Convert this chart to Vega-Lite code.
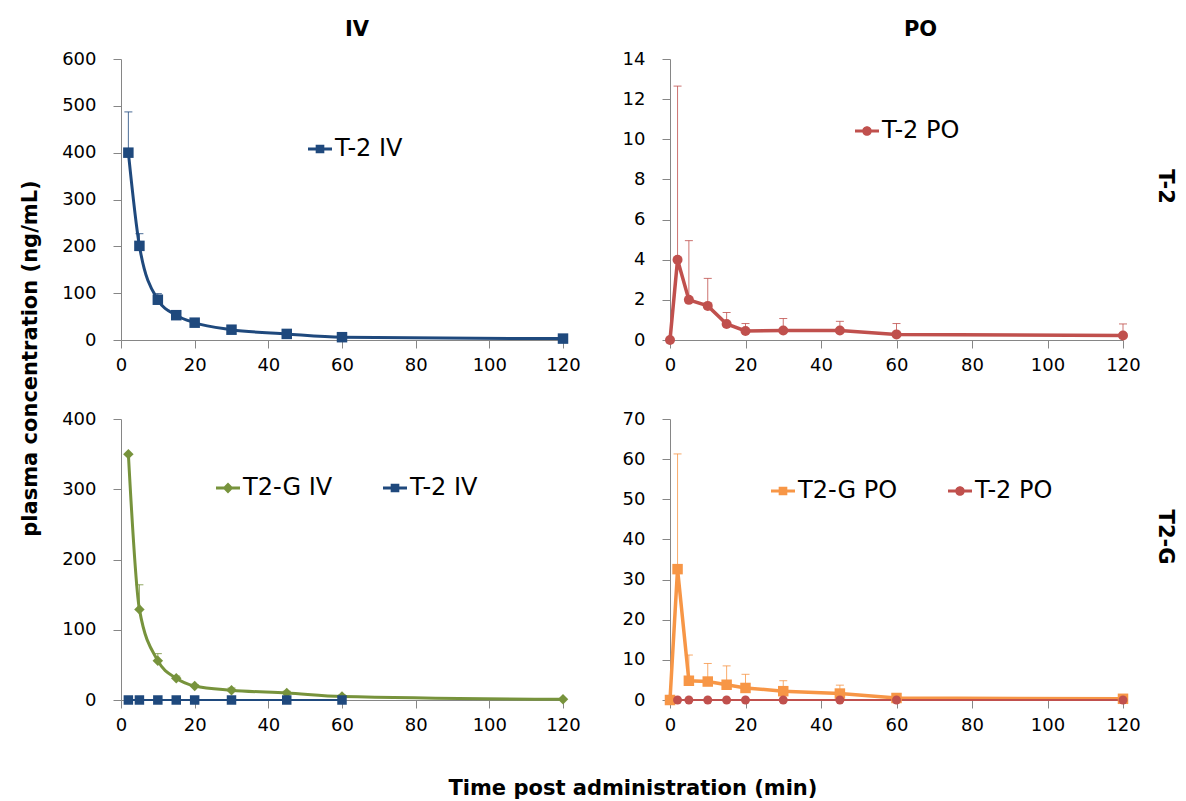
{
  "$schema": "https://vega.github.io/schema/vega-lite/v6.json",
  "background": "white",
  "padding": {"left": 19, "top": 19, "right": 4, "bottom": 4},
  "data": {"values": [
    {"p": "TL", "s": "T-2 IV", "t": 2, "c": 400, "u": 487},
    {"p": "TL", "s": "T-2 IV", "t": 5, "c": 201, "u": 227},
    {"p": "TL", "s": "T-2 IV", "t": 10, "c": 86, "u": 99},
    {"p": "TL", "s": "T-2 IV", "t": 15, "c": 53, "u": null},
    {"p": "TL", "s": "T-2 IV", "t": 20, "c": 37, "u": null},
    {"p": "TL", "s": "T-2 IV", "t": 30, "c": 22, "u": null},
    {"p": "TL", "s": "T-2 IV", "t": 45, "c": 13, "u": null},
    {"p": "TL", "s": "T-2 IV", "t": 60, "c": 6, "u": null},
    {"p": "TL", "s": "T-2 IV", "t": 120, "c": 3, "u": null},
    {"p": "TR", "s": "T-2 PO", "t": 0, "c": 0, "u": null},
    {"p": "TR", "s": "T-2 PO", "t": 2, "c": 4.0, "u": 12.65},
    {"p": "TR", "s": "T-2 PO", "t": 5, "c": 2.0, "u": 4.95},
    {"p": "TR", "s": "T-2 PO", "t": 10, "c": 1.7, "u": 3.07},
    {"p": "TR", "s": "T-2 PO", "t": 15, "c": 0.8, "u": 1.37},
    {"p": "TR", "s": "T-2 PO", "t": 20, "c": 0.45, "u": 0.82},
    {"p": "TR", "s": "T-2 PO", "t": 30, "c": 0.47, "u": 1.07},
    {"p": "TR", "s": "T-2 PO", "t": 45, "c": 0.47, "u": 0.93},
    {"p": "TR", "s": "T-2 PO", "t": 60, "c": 0.28, "u": 0.82},
    {"p": "TR", "s": "T-2 PO", "t": 120, "c": 0.22, "u": 0.8},
    {"p": "BL", "s": "T2-G IV", "t": 2, "c": 350, "u": null},
    {"p": "BL", "s": "T2-G IV", "t": 5, "c": 129, "u": 164},
    {"p": "BL", "s": "T2-G IV", "t": 10, "c": 56, "u": 66},
    {"p": "BL", "s": "T2-G IV", "t": 15, "c": 31, "u": 34},
    {"p": "BL", "s": "T2-G IV", "t": 20, "c": 20, "u": 22},
    {"p": "BL", "s": "T2-G IV", "t": 30, "c": 14, "u": 17},
    {"p": "BL", "s": "T2-G IV", "t": 45, "c": 10, "u": 12.5},
    {"p": "BL", "s": "T2-G IV", "t": 60, "c": 5, "u": 7},
    {"p": "BL", "s": "T2-G IV", "t": 120, "c": 1, "u": null},
    {"p": "BL", "s": "T-2 IV", "t": 2, "c": 0, "u": null},
    {"p": "BL", "s": "T-2 IV", "t": 5, "c": 0, "u": null},
    {"p": "BL", "s": "T-2 IV", "t": 10, "c": 0, "u": null},
    {"p": "BL", "s": "T-2 IV", "t": 15, "c": 0, "u": null},
    {"p": "BL", "s": "T-2 IV", "t": 20, "c": 0, "u": null},
    {"p": "BL", "s": "T-2 IV", "t": 30, "c": 0, "u": null},
    {"p": "BL", "s": "T-2 IV", "t": 45, "c": 0, "u": null},
    {"p": "BL", "s": "T-2 IV", "t": 60, "c": 0, "u": null},
    {"p": "BR", "s": "T2-G PO", "t": 0, "c": 0, "u": null},
    {"p": "BR", "s": "T2-G PO", "t": 2, "c": 32.6, "u": 61.3},
    {"p": "BR", "s": "T2-G PO", "t": 5, "c": 4.8, "u": 11.2},
    {"p": "BR", "s": "T2-G PO", "t": 10, "c": 4.6, "u": 9.1},
    {"p": "BR", "s": "T2-G PO", "t": 15, "c": 3.8, "u": 8.5},
    {"p": "BR", "s": "T2-G PO", "t": 20, "c": 3.0, "u": 6.4},
    {"p": "BR", "s": "T2-G PO", "t": 30, "c": 2.2, "u": 4.8},
    {"p": "BR", "s": "T2-G PO", "t": 45, "c": 1.6, "u": 3.7},
    {"p": "BR", "s": "T2-G PO", "t": 60, "c": 0.5, "u": 1.2},
    {"p": "BR", "s": "T2-G PO", "t": 120, "c": 0.3, "u": null},
    {"p": "BR", "s": "T-2 PO", "t": 2, "c": 0, "u": null},
    {"p": "BR", "s": "T-2 PO", "t": 5, "c": 0, "u": null},
    {"p": "BR", "s": "T-2 PO", "t": 10, "c": 0, "u": null},
    {"p": "BR", "s": "T-2 PO", "t": 15, "c": 0, "u": null},
    {"p": "BR", "s": "T-2 PO", "t": 20, "c": 0, "u": null},
    {"p": "BR", "s": "T-2 PO", "t": 30, "c": 0, "u": null},
    {"p": "BR", "s": "T-2 PO", "t": 45, "c": 0, "u": null},
    {"p": "BR", "s": "T-2 PO", "t": 60, "c": 0, "u": null},
    {"p": "BR", "s": "T-2 PO", "t": 120, "c": 0, "u": null}
  ]},
  "title": {"text": "Time post administration (min)", "orient": "bottom", "anchor": "middle", "offset": 44, "dx": 35},
  "resolve": {"scale": {"color": "independent", "shape": "independent"}, "legend": {"color": "independent", "shape": "independent"}},
  "vconcat": [
    {
      "title": {"text": "plasma concentration (ng/mL)", "orient": "left", "anchor": "middle", "offset": 21, "dx": 18},
      "spacing": 36,
      "resolve": {"scale": {"color": "independent", "shape": "independent"}, "legend": {"color": "independent", "shape": "independent"}},
      "vconcat": [
        {
          "spacing": 41,
          "resolve": {"scale": {"color": "independent", "shape": "independent"}, "legend": {"color": "independent", "shape": "independent"}},
          "hconcat": [
            {
              "width": 442, "height": 281,
              "title": {"text": "IV", "dx": 15},
              "transform": [{"filter": "datum.p === 'TL'"}],
              "layer": [
                {"transform": [{"filter": "isValid(datum.u)"}],
                 "mark": {"type": "rule", "strokeWidth": 1, "opacity": 0.8},
                 "encoding": {
                   "x": {"field": "t", "type": "quantitative", "title": null, "scale": {"domain": [0, 120], "nice": false}, "axis": {"values": [0, 20, 40, 60, 80, 100, 120]}},
                   "y": {"field": "c", "type": "quantitative", "title": null, "scale": {"domain": [0, 600], "nice": false}, "axis": {"values": [0, 100, 200, 300, 400, 500, 600]}},
                   "y2": {"field": "u"},
                   "color": {"field": "s", "type": "nominal", "scale": {"domain": ["T-2 IV"], "range": ["#1F497D"]}}}},
                {"transform": [{"filter": "isValid(datum.u)"}],
                 "mark": {"type": "point", "shape": "stroke", "filled": false, "size": 64, "strokeWidth": 1, "opacity": 0.8},
                 "encoding": {
                   "x": {"field": "t", "type": "quantitative", "title": null},
                   "y": {"field": "u", "type": "quantitative", "title": null},
                   "color": {"field": "s", "type": "nominal"}}},
                {"mark": {"type": "line", "strokeWidth": 3, "interpolate": "monotone"},
                 "encoding": {
                   "x": {"field": "t", "type": "quantitative", "title": null},
                   "y": {"field": "c", "type": "quantitative", "title": null},
                   "color": {"field": "s", "type": "nominal"}}},
                {"mark": {"type": "point", "shape": "square", "filled": true, "opacity": 1, "size": 110},
                 "encoding": {
                   "x": {"field": "t", "type": "quantitative", "title": null},
                   "y": {"field": "c", "type": "quantitative", "title": null},
                   "color": {"field": "s", "type": "nominal"}}},
                {"transform": [{"filter": "datum.t < 0"}],
                 "mark": {"type": "point", "filled": true, "opacity": 1},
                 "encoding": {
                   "x": {"field": "t", "type": "quantitative", "title": null},
                   "y": {"field": "c", "type": "quantitative", "title": null},
                   "shape": {"field": "s", "type": "nominal", "scale": {"domain": ["T-2 IV"], "range": ["M-1,-0.12H1V0.12H-1Z M-0.36,-0.36H0.36V0.36H-0.36Z"]}, "legend": {"legendX": 187, "legendY": 78}},
                   "color": {"field": "s", "type": "nominal", "legend": {"legendX": 187, "legendY": 78}}}}
              ]
            },
            {
              "title": {"text": "T-2", "orient": "right", "anchor": "middle", "offset": 15, "dx": -10},
              "resolve": {"scale": {"color": "independent", "shape": "independent"}, "legend": {"color": "independent", "shape": "independent"}},
              "vconcat": [
                {
                  "width": 453, "height": 281,
                  "title": {"text": "PO", "dx": 24},
                  "transform": [{"filter": "datum.p === 'TR'"}],
                  "layer": [
                    {"transform": [{"filter": "isValid(datum.u)"}],
                     "mark": {"type": "rule", "strokeWidth": 1, "opacity": 0.8},
                     "encoding": {
                       "x": {"field": "t", "type": "quantitative", "title": null, "scale": {"domain": [0, 120], "nice": false}, "axis": {"values": [0, 20, 40, 60, 80, 100, 120]}},
                       "y": {"field": "c", "type": "quantitative", "title": null, "scale": {"domain": [0, 14], "nice": false}, "axis": {"values": [0, 2, 4, 6, 8, 10, 12, 14]}},
                       "y2": {"field": "u"},
                       "color": {"field": "s", "type": "nominal", "scale": {"domain": ["T-2 PO"], "range": ["#C0504D"]}}}},
                    {"transform": [{"filter": "isValid(datum.u)"}],
                     "mark": {"type": "point", "shape": "stroke", "filled": false, "size": 64, "strokeWidth": 1, "opacity": 0.8},
                     "encoding": {
                       "x": {"field": "t", "type": "quantitative", "title": null},
                       "y": {"field": "u", "type": "quantitative", "title": null},
                       "color": {"field": "s", "type": "nominal"}}},
                    {"mark": {"type": "line", "strokeWidth": 3.5},
                     "encoding": {
                       "x": {"field": "t", "type": "quantitative", "title": null},
                       "y": {"field": "c", "type": "quantitative", "title": null},
                       "color": {"field": "s", "type": "nominal"}}},
                    {"mark": {"type": "point", "shape": "circle", "filled": true, "opacity": 1, "size": 100},
                     "encoding": {
                       "x": {"field": "t", "type": "quantitative", "title": null},
                       "y": {"field": "c", "type": "quantitative", "title": null},
                       "color": {"field": "s", "type": "nominal"}}},
                    {"transform": [{"filter": "datum.t < 0"}],
                     "mark": {"type": "point", "filled": true, "opacity": 1},
                     "encoding": {
                       "x": {"field": "t", "type": "quantitative", "title": null},
                       "y": {"field": "c", "type": "quantitative", "title": null},
                       "shape": {"field": "s", "type": "nominal", "scale": {"domain": ["T-2 PO"], "range": ["M-1,-0.12H1V0.12H-1Z M-0.4,0A0.4,0.4 0 1,1 0.4,0A0.4,0.4 0 1,1 -0.4,0Z"]}, "legend": {"legendX": 185, "legendY": 60}},
                       "color": {"field": "s", "type": "nominal", "legend": {"legendX": 185, "legendY": 60}}}}
                  ]
                }
              ]
            }
          ]
        },
        {
          "spacing": 41,
          "resolve": {"scale": {"color": "independent", "shape": "independent"}, "legend": {"color": "independent", "shape": "independent"}},
          "hconcat": [
            {
              "width": 442, "height": 281,
              "transform": [{"filter": "datum.p === 'BL'"}],
              "layer": [
                {"transform": [{"filter": "isValid(datum.u)"}],
                 "mark": {"type": "rule", "strokeWidth": 1, "opacity": 0.8},
                 "encoding": {
                   "x": {"field": "t", "type": "quantitative", "title": null, "scale": {"domain": [0, 120], "nice": false}, "axis": {"values": [0, 20, 40, 60, 80, 100, 120]}},
                   "y": {"field": "c", "type": "quantitative", "title": null, "scale": {"domain": [0, 400], "nice": false}, "axis": {"values": [0, 100, 200, 300, 400]}},
                   "y2": {"field": "u"},
                   "color": {"field": "s", "type": "nominal", "scale": {"domain": ["T2-G IV", "T-2 IV"], "range": ["#77933C", "#1F497D"]}}}},
                {"transform": [{"filter": "isValid(datum.u)"}],
                 "mark": {"type": "point", "shape": "stroke", "filled": false, "size": 64, "strokeWidth": 1, "opacity": 0.8},
                 "encoding": {
                   "x": {"field": "t", "type": "quantitative", "title": null},
                   "y": {"field": "u", "type": "quantitative", "title": null},
                   "color": {"field": "s", "type": "nominal"}}},
                {"transform": [{"filter": "datum.s === 'T2-G IV'"}],
                 "mark": {"type": "line", "strokeWidth": 3, "interpolate": "monotone"},
                 "encoding": {
                   "x": {"field": "t", "type": "quantitative", "title": null},
                   "y": {"field": "c", "type": "quantitative", "title": null},
                   "color": {"field": "s", "type": "nominal"}}},
                {"transform": [{"filter": "datum.s === 'T-2 IV'"}],
                 "mark": {"type": "line", "strokeWidth": 2},
                 "encoding": {
                   "x": {"field": "t", "type": "quantitative", "title": null},
                   "y": {"field": "c", "type": "quantitative", "title": null},
                   "color": {"field": "s", "type": "nominal"}}},
                {"transform": [{"filter": "datum.s === 'T2-G IV'"}],
                 "mark": {"type": "point", "shape": "diamond", "filled": true, "opacity": 1, "size": 110},
                 "encoding": {
                   "x": {"field": "t", "type": "quantitative", "title": null},
                   "y": {"field": "c", "type": "quantitative", "title": null},
                   "color": {"field": "s", "type": "nominal"}}},
                {"transform": [{"filter": "datum.s === 'T-2 IV'"}],
                 "mark": {"type": "point", "shape": "square", "filled": true, "opacity": 1, "size": 90},
                 "encoding": {
                   "x": {"field": "t", "type": "quantitative", "title": null},
                   "y": {"field": "c", "type": "quantitative", "title": null},
                   "color": {"field": "s", "type": "nominal"}}},
                {"transform": [{"filter": "datum.t < 0"}],
                 "mark": {"type": "point", "filled": true, "opacity": 1},
                 "encoding": {
                   "x": {"field": "t", "type": "quantitative", "title": null},
                   "y": {"field": "c", "type": "quantitative", "title": null},
                   "shape": {"field": "s", "type": "nominal", "scale": {"domain": ["T2-G IV", "T-2 IV"], "range": ["M-1,-0.12H1V0.12H-1Z M0,-0.45L0.45,0L0,0.45L-0.45,0Z", "M-1,-0.12H1V0.12H-1Z M-0.36,-0.36H0.36V0.36H-0.36Z"]}, "legend": {"legendX": 95, "legendY": 57}},
                   "color": {"field": "s", "type": "nominal", "legend": {"legendX": 95, "legendY": 57}}}}
              ]
            },
            {
              "title": {"text": "T2-G", "orient": "right", "anchor": "middle", "offset": 15, "dx": -35},
              "resolve": {"scale": {"color": "independent", "shape": "independent"}, "legend": {"color": "independent", "shape": "independent"}},
              "vconcat": [
                {
                  "width": 453, "height": 281,
                  "transform": [{"filter": "datum.p === 'BR'"}],
                  "layer": [
                    {"transform": [{"filter": "isValid(datum.u)"}],
                     "mark": {"type": "rule", "strokeWidth": 1, "opacity": 0.8},
                     "encoding": {
                       "x": {"field": "t", "type": "quantitative", "title": null, "scale": {"domain": [0, 120], "nice": false}, "axis": {"values": [0, 20, 40, 60, 80, 100, 120]}},
                       "y": {"field": "c", "type": "quantitative", "title": null, "scale": {"domain": [0, 70], "nice": false}, "axis": {"values": [0, 10, 20, 30, 40, 50, 60, 70]}},
                       "y2": {"field": "u"},
                       "color": {"field": "s", "type": "nominal", "scale": {"domain": ["T2-G PO", "T-2 PO"], "range": ["#F79646", "#C0504D"]}}}},
                    {"transform": [{"filter": "isValid(datum.u)"}],
                     "mark": {"type": "point", "shape": "stroke", "filled": false, "size": 64, "strokeWidth": 1, "opacity": 0.8},
                     "encoding": {
                       "x": {"field": "t", "type": "quantitative", "title": null},
                       "y": {"field": "u", "type": "quantitative", "title": null},
                       "color": {"field": "s", "type": "nominal"}}},
                    {"transform": [{"filter": "datum.s === 'T2-G PO'"}],
                     "mark": {"type": "line", "strokeWidth": 3.5},
                     "encoding": {
                       "x": {"field": "t", "type": "quantitative", "title": null},
                       "y": {"field": "c", "type": "quantitative", "title": null},
                       "color": {"field": "s", "type": "nominal"}}},
                    {"transform": [{"filter": "datum.s === 'T-2 PO'"}],
                     "mark": {"type": "line", "strokeWidth": 2},
                     "encoding": {
                       "x": {"field": "t", "type": "quantitative", "title": null},
                       "y": {"field": "c", "type": "quantitative", "title": null},
                       "color": {"field": "s", "type": "nominal"}}},
                    {"transform": [{"filter": "datum.s === 'T2-G PO'"}],
                     "mark": {"type": "point", "shape": "square", "filled": true, "opacity": 1, "size": 110},
                     "encoding": {
                       "x": {"field": "t", "type": "quantitative", "title": null},
                       "y": {"field": "c", "type": "quantitative", "title": null},
                       "color": {"field": "s", "type": "nominal"}}},
                    {"transform": [{"filter": "datum.s === 'T-2 PO'"}],
                     "mark": {"type": "point", "shape": "circle", "filled": true, "opacity": 1, "size": 80},
                     "encoding": {
                       "x": {"field": "t", "type": "quantitative", "title": null},
                       "y": {"field": "c", "type": "quantitative", "title": null},
                       "color": {"field": "s", "type": "nominal"}}},
                    {"transform": [{"filter": "datum.t < 0"}],
                     "mark": {"type": "point", "filled": true, "opacity": 1},
                     "encoding": {
                       "x": {"field": "t", "type": "quantitative", "title": null},
                       "y": {"field": "c", "type": "quantitative", "title": null},
                       "shape": {"field": "s", "type": "nominal", "scale": {"domain": ["T2-G PO", "T-2 PO"], "range": ["M-1,-0.12H1V0.12H-1Z M-0.36,-0.36H0.36V0.36H-0.36Z", "M-1,-0.12H1V0.12H-1Z M-0.4,0A0.4,0.4 0 1,1 0.4,0A0.4,0.4 0 1,1 -0.4,0Z"]}, "legend": {"legendX": 101, "legendY": 60}},
                       "color": {"field": "s", "type": "nominal", "legend": {"legendX": 101, "legendY": 60}}}}
                  ]
                }
              ]
            }
          ]
        }
      ]
    }
  ],
  "config": {
    "view": {"stroke": null},
    "axis": {"grid": false, "domainColor": "#868686", "tickColor": "#868686", "tickSize": 8, "labelFont": "DejaVu Sans", "labelFontSize": 18, "labelColor": "#000000", "labelFlush": false},
    "axisY": {"labelPadding": 17},
    "axisX": {"labelPadding": 8},
    "legend": {"orient": "none", "direction": "horizontal", "title": null, "labelFont": "DejaVu Sans", "labelFontSize": 24, "labelColor": "#000000", "symbolSize": 576, "symbolOpacity": 1, "symbolStrokeWidth": 0, "columnPadding": 50, "labelOffset": 3, "padding": 0},
    "title": {"font": "DejaVu Sans", "fontWeight": "bold", "fontSize": 21, "color": "#000000", "offset": 10}
  }
}
